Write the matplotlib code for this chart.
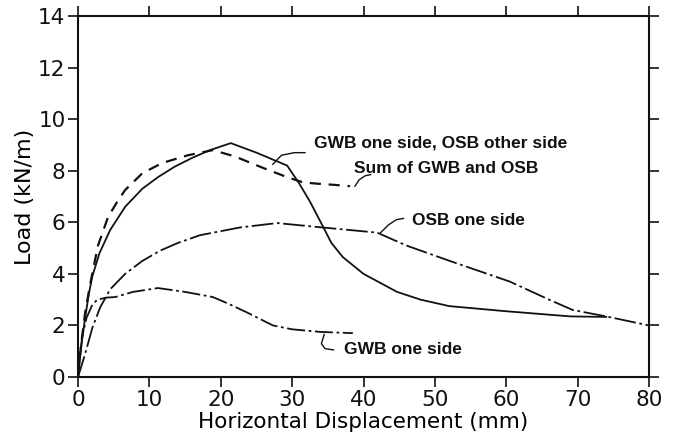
import matplotlib
matplotlib.use("Agg")
import matplotlib.pyplot as plt

# %% DATA
both_x = [0, 0.3, 0.6, 1.0, 1.5, 2.0, 3.0, 4.5, 6.6, 9.0, 11.2, 13.5, 16.0,
          18.5, 21.4, 25.0, 29.3, 31.0, 32.5, 34.2, 35.5, 37.1, 40.0, 44.7,
          48.0, 52.0, 60.0, 69.0, 74.0]
both_y = [0, 0.8, 1.5, 2.3, 3.2, 3.9, 4.8, 5.7, 6.6, 7.3, 7.75, 8.15, 8.5,
          8.8, 9.07, 8.7, 8.2, 7.5, 6.8, 5.9, 5.2, 4.65, 4.0, 3.3,
          3.0, 2.75, 2.55, 2.35, 2.33]

sum_x = [0, 0.4, 1.0, 1.7, 2.8, 4.2, 5.5, 6.6, 9.0, 11.8, 15.4, 18.9, 22.0,
         26.0, 29.3, 31.5, 33.4, 36.0, 38.1]
sum_y = [0, 1.2, 2.5, 3.6, 5.1, 6.2, 6.8, 7.25, 7.9, 8.3, 8.6, 8.8, 8.55,
         8.1, 7.75, 7.55, 7.5, 7.45, 7.4]

osb_x = [0, 1.0, 2.0, 3.1, 4.5, 6.6, 9.0, 11.5, 14.0, 17.1, 22.7, 27.9,
         34.2, 41.9, 46.0, 52.1, 60.5, 66.0, 69.3, 74.0, 80.0]
osb_y = [0, 0.9, 1.9, 2.7, 3.4, 4.0, 4.5, 4.9, 5.2, 5.5, 5.8, 5.97,
         5.8, 5.6, 5.1, 4.5, 3.7, 3.0, 2.6, 2.35, 2.0]

gwb_x = [0, 0.3, 0.6, 1.2, 2.0, 2.7, 4.0, 5.2, 7.7, 11.2, 15.0, 18.9, 21.0,
         23.7, 27.3, 30.0, 33.9, 38.5]
gwb_y = [0, 0.9, 1.6, 2.3, 2.8, 3.0, 3.08, 3.1, 3.3, 3.45, 3.3, 3.1, 2.85,
         2.5, 2.0, 1.85, 1.75, 1.7]

x_ticks = [0, 10, 20, 30, 40, 50, 60, 70, 80]
y_ticks = [0, 2, 4, 6, 8, 10, 12, 14]

labels = ['GWB one side, OSB other side', 'Sum of GWB and OSB',
          'OSB one side', 'GWB one side']

# %% PLOT
fig = plt.figure(figsize=(6.75, 4.36), dpi=100)
ax = fig.add_axes([0.1156, 0.1353, 0.8459, 0.828])

lc = '#111111'
ax.plot(both_x, both_y, color=lc, lw=1.3, ls='-')
ax.plot(sum_x, sum_y, color=lc, lw=1.6, ls=(0, (5, 3.5)))
ax.plot(osb_x, osb_y, color=lc, lw=1.3, ls=(0, (12, 2, 1.5, 2)))
ax.plot(gwb_x, gwb_y, color=lc, lw=1.3, ls=(0, (10, 2, 1.5, 2)))

ax.set_xlim(0, 80)
ax.set_ylim(0, 14)
ax.set_xticks(x_ticks)
ax.set_yticks(y_ticks)
ax.tick_params(direction='out', length=7, width=1.2, labelsize=15.5,
               top=True, right=True, colors=lc, pad=2)
for sp in ax.spines.values():
    sp.set_linewidth(1.5)
    sp.set_color(lc)

ax.set_xlabel('Horizontal Displacement (mm)', fontsize=15.5, labelpad=2)
ax.set_ylabel('Load (kN/m)', fontsize=16, labelpad=2)

# annotations with small hand-drawn style leaders
afont = dict(family='Liberation Sans', fontsize=12.5, fontweight='bold',
             color=lc, va='center', ha='left')
ax.text(33.0, 9.08, labels[0], **afont)
ax.text(38.6, 8.1, labels[1], **afont)
ax.text(46.8, 6.07, labels[2], **afont)
ax.text(37.2, 1.05, labels[3], **afont)

lk = dict(color=lc, lw=1.0)
ax.plot([27.3, 28.5, 30.3, 31.8], [8.25, 8.6, 8.7, 8.7], **lk)
ax.plot([38.8, 39.4, 40.2, 41.0], [7.4, 7.65, 7.8, 7.85], **lk)
ax.plot([42.4, 43.5, 44.6, 45.6], [5.6, 5.9, 6.1, 6.15], **lk)
ax.plot([34.5, 34.1, 34.6, 35.8], [1.65, 1.3, 1.1, 1.05], **lk)

fig.savefig('out.png', dpi=100)
